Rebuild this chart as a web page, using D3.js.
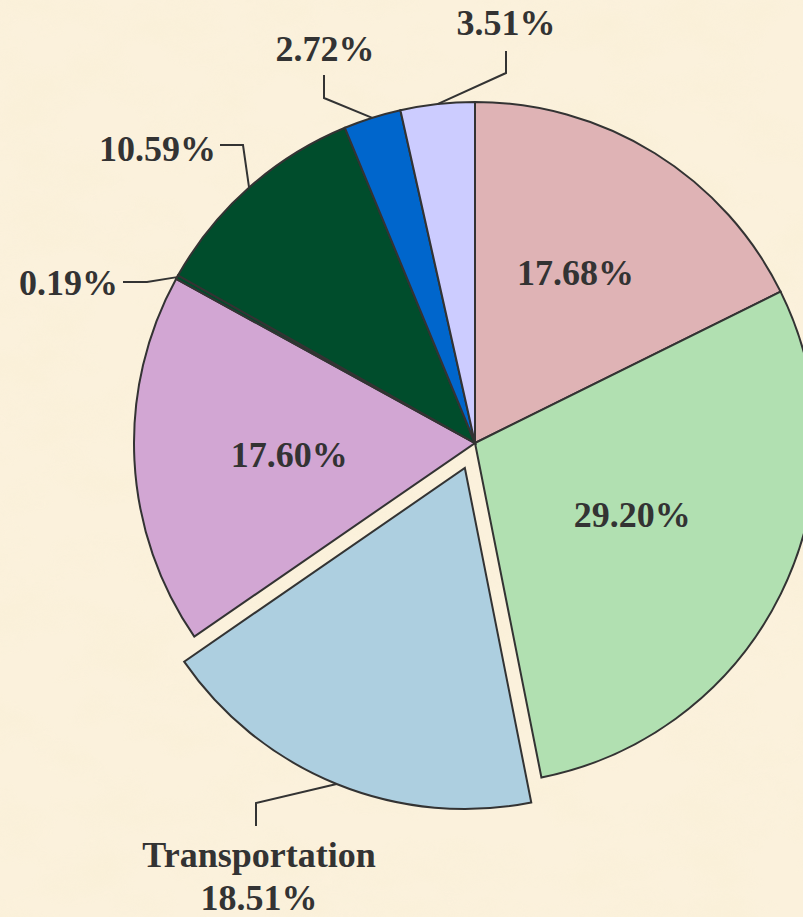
<!DOCTYPE html>
<html>
<head>
<meta charset="utf-8">
<script src="https://cdn.jsdelivr.net/npm/d3@7"></script>
<style>
  html, body { margin: 0; padding: 0; background: #f9eed6; }
  svg { display: block; }
</style>
</head>
<body>
<div id="chart"></div>
<script>
// ---- data ----
const categories = ["Cat A", "Cat B", "Transportation", "Cat D", "Cat E", "Cat F", "Cat G", "Cat H"];
const values = [17.68, 29.20, 18.51, 17.60, 0.19, 10.59, 2.72, 3.51];
const valueLabels = ["17.68%", "29.20%", "18.51%", "17.60%", "0.19%", "10.59%", "2.72%", "3.51%"];
const shownNames = ["", "", "Transportation", "", "", "", "", ""];

// ---- style ----
const colors = ["#dfb3b5", "#b1e0b1", "#adcfe0", "#d2a6d3", "#004d2c", "#004d2c", "#0066cc", "#ccccff"];
const W = 803, H = 917;
const cx = 475, cy = 443, R = 341;
const explodeIdx = 2, explodeDist = 27;
const textColor = "#333333";
const font = "'Liberation Serif', 'Times New Roman', serif";
const fs = 36;

const svg = d3.select("#chart").append("svg")
  .attr("width", W).attr("height", H);

const defs = svg.append("defs");
const f = defs.append("filter").attr("id", "paper")
  .attr("x", 0).attr("y", 0).attr("width", "100%").attr("height", "100%");
f.append("feTurbulence").attr("type", "fractalNoise")
  .attr("baseFrequency", "0.012 0.02").attr("numOctaves", 4).attr("seed", 7).attr("result", "n");
f.append("feColorMatrix").attr("in", "n").attr("type", "matrix")
  .attr("values", "0 0 0 0 0.93  0 0 0 0 0.85  0 0 0 0 0.62  1.1 0 0 0 -0.45");

svg.append("rect").attr("width", W).attr("height", H).attr("fill", "#fbf1dc");
svg.append("rect").attr("width", W).attr("height", H).attr("filter", "url(#paper)").attr("opacity", 0.55);

const pie = d3.pie().sort(null).value(d => d)(values);
const arc = d3.arc().innerRadius(0).outerRadius(R);

const g = svg.append("g").attr("transform", `translate(${cx},${cy})`);

function offset(d, i) {
  if (i !== explodeIdx) return [0, 0];
  const a = (d.startAngle + d.endAngle) / 2;
  return [explodeDist * Math.sin(a), -explodeDist * Math.cos(a)];
}

g.selectAll("path.slice").data(pie).join("path")
  .attr("class", "slice")
  .attr("d", arc)
  .attr("transform", (d, i) => { const o = offset(d, i); return `translate(${o[0]},${o[1]})`; })
  .attr("fill", (d, i) => colors[i])
  .attr("stroke", "#333")
  .attr("stroke-width", 2)
  .attr("stroke-linejoin", "miter");

// inside labels (radius + small nudges)
const inside = { 0: [4, -15], 1: [-7, -9], 3: [-3, 3] };
const inR = 183;
Object.keys(inside).forEach(k => {
  const i = +k;
  const d = pie[i];
  const a = (d.startAngle + d.endAngle) / 2;
  g.append("text")
    .attr("x", inR * Math.sin(a) + inside[k][0])
    .attr("y", -inR * Math.cos(a) + 12 + inside[k][1])
    .attr("text-anchor", "middle")
    .attr("font-family", font).attr("font-weight", "bold").attr("font-size", fs)
    .attr("fill", textColor)
    .text(valueLabels[i]);
});

// outside labels with leader lines
const outside = {
  4: { pts: [[147, 282], [123, 282]], tx: 118, ty: 295, anchor: "end" },
  5: { pts: [[243, 145], [220, 145]], tx: 216, ty: 161, anchor: "end" },
  6: { pts: [[324, 98], [324, 75]], tx: 325, ty: 61, anchor: "middle" },
  7: { pts: [[506, 73], [506, 51]], tx: 506, ty: 35, anchor: "middle" },
  2: { pts: [[256, 803], [256, 826]], tx: 259, ty: 867, anchor: "middle" }
};
Object.keys(outside).forEach(k => {
  const i = +k;
  const d = pie[i];
  const a = (d.startAngle + d.endAngle) / 2;
  const o = offset(d, i);
  const sx = cx + o[0] + R * Math.sin(a);
  const sy = cy + o[1] - R * Math.cos(a);
  const L = outside[k];
  svg.append("path")
    .attr("d", d3.line()([[sx, sy], ...L.pts]))
    .attr("fill", "none").attr("stroke", "#333").attr("stroke-width", 2);
  const t = svg.append("text")
    .attr("x", L.tx).attr("y", L.ty)
    .attr("text-anchor", L.anchor)
    .attr("font-family", font).attr("font-weight", "bold").attr("font-size", fs)
    .attr("fill", textColor);
  if (shownNames[i]) {
    t.text(shownNames[i]);
    svg.append("text")
      .attr("x", L.tx).attr("y", L.ty + 43)
      .attr("text-anchor", "middle")
      .attr("font-family", font).attr("font-weight", "bold").attr("font-size", fs)
      .attr("fill", textColor)
      .text(valueLabels[i]);
  } else {
    t.text(valueLabels[i]);
  }
});
</script>
</body>
</html>
